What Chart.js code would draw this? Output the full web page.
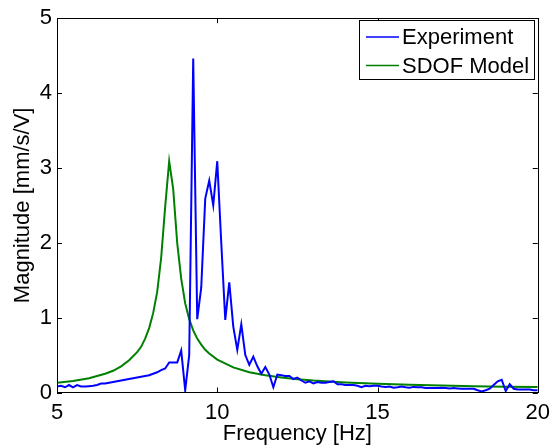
<!DOCTYPE html>
<html>
<head>
<meta charset="utf-8">
<script src="https://cdn.jsdelivr.net/npm/chart.js@4.4.1/dist/chart.umd.min.js"></script>
<style>
  html, body { margin: 0; padding: 0; background: #fff; }
  canvas { display: block; }
</style>
</head>
<body>
<canvas id="frfChart" width="557" height="447"></canvas>
<script>
// measured frequencies (Hz), 0.125 Hz resolution
const freq = [
  5.000, 5.125, 5.250, 5.375, 5.500, 5.625, 5.750, 5.875,
  6.000, 6.125, 6.250, 6.375, 6.500, 6.625, 6.750, 6.875,
  7.000, 7.125, 7.250, 7.375, 7.500, 7.625, 7.750, 7.875,
  8.000, 8.125, 8.250, 8.375, 8.500, 8.625, 8.750, 8.875,
  9.000, 9.125, 9.250, 9.375, 9.500, 9.625, 9.750, 9.875,
  10.000, 10.125, 10.250, 10.375, 10.500, 10.625, 10.750, 10.875,
  11.000, 11.125, 11.250, 11.375, 11.500, 11.625, 11.750, 11.875,
  12.000, 12.125, 12.250, 12.375, 12.500, 12.625, 12.750, 12.875,
  13.000, 13.125, 13.250, 13.375, 13.500, 13.625, 13.750, 13.875,
  14.000, 14.125, 14.250, 14.375, 14.500, 14.625, 14.750, 14.875,
  15.000, 15.125, 15.250, 15.375, 15.500, 15.625, 15.750, 15.875,
  16.000, 16.125, 16.250, 16.375, 16.500, 16.625, 16.750, 16.875,
  17.000, 17.125, 17.250, 17.375, 17.500, 17.625, 17.750, 17.875,
  18.000, 18.125, 18.250, 18.375, 18.500, 18.625, 18.750, 18.875,
  19.000, 19.125, 19.250, 19.375, 19.500, 19.625, 19.750, 19.875,
  20.000
];

// experiment magnitude (mm/s/V)
const experiment = [
  0.08, 0.09, 0.07, 0.10, 0.07, 0.10, 0.08, 0.08,
  0.085, 0.09, 0.10, 0.12, 0.12, 0.13, 0.14, 0.15,
  0.16, 0.17, 0.18, 0.19, 0.20, 0.21, 0.22, 0.23,
  0.25, 0.27, 0.30, 0.32, 0.40, 0.40, 0.40, 0.56,
  0.03, 0.50, 4.46, 0.98, 1.40, 2.59, 2.83, 2.50,
  3.09, 2.00, 0.97, 1.47, 0.88, 0.57, 0.91, 0.50,
  0.37, 0.48, 0.35, 0.25, 0.34, 0.24, 0.07, 0.24,
  0.23, 0.22, 0.22, 0.18, 0.20, 0.16, 0.13, 0.15,
  0.12, 0.14, 0.13, 0.13, 0.14, 0.15, 0.11, 0.11,
  0.10, 0.10, 0.10, 0.09, 0.07, 0.09, 0.085, 0.09,
  0.09, 0.08, 0.075, 0.08, 0.065, 0.07, 0.08, 0.07,
  0.065, 0.075, 0.07, 0.07, 0.06, 0.06, 0.06, 0.06,
  0.065, 0.06, 0.055, 0.06, 0.055, 0.05, 0.05, 0.05,
  0.05, 0.03, 0.015, 0.03, 0.05, 0.10, 0.15, 0.17,
  0.02, 0.11, 0.05, 0.04, 0.04, 0.04, 0.04, 0.03,
  0.03
];

// SDOF model curve
const modelFreq = [
  5.0, 5.5, 6.0, 6.5, 6.75, 7.0, 7.25, 7.5, 7.625, 7.75, 7.875,
  8.0, 8.125, 8.25, 8.375, 8.5, 8.625, 8.75, 8.875,
  9.0, 9.125, 9.25, 9.375, 9.5, 9.625, 9.75, 10.0, 10.5,
  11.0, 11.5, 12.0, 12.5, 13.0, 14.0, 15.0, 16.0, 17.0, 18.0, 19.0, 20.0
];
const model = [
  0.13, 0.155, 0.19, 0.25, 0.29, 0.35, 0.43, 0.54, 0.61, 0.72, 0.86,
  1.06, 1.34, 1.80, 2.48, 3.09, 2.72, 2.00, 1.52,
  1.19, 0.98, 0.83, 0.72, 0.64, 0.57, 0.52, 0.44, 0.335,
  0.27, 0.23, 0.20, 0.178, 0.16, 0.135, 0.117, 0.104, 0.094, 0.085, 0.078, 0.072
];

const xTicks = [5, 10, 15, 20];
const yTicks = [0, 1, 2, 3, 4, 5];

const FONT = "Liberation Sans, Arial, sans-serif";

// box + inward ticks on all four sides, like the matlab axes
const matlabBox = {
  id: "matlabBox",
  afterDatasetsDraw(chart) {
    const { ctx, chartArea: a, scales } = chart;
    const len = 5;
    ctx.save();
    ctx.strokeStyle = "#000";
    ctx.lineWidth = 1;
    ctx.beginPath();
    xTicks.forEach((t) => {
      const px = Math.round(scales.x.getPixelForValue(t)) + 0.5;
      ctx.moveTo(px, a.bottom); ctx.lineTo(px, a.bottom - len);
      ctx.moveTo(px, a.top); ctx.lineTo(px, a.top + len);
    });
    yTicks.forEach((t) => {
      const py = Math.round(scales.y.getPixelForValue(t)) + 0.5;
      ctx.moveTo(a.left, py); ctx.lineTo(a.left + len, py);
      ctx.moveTo(a.right, py); ctx.lineTo(a.right - len, py);
    });
    ctx.stroke();
    ctx.strokeRect(Math.round(a.left) + 0.5, Math.round(a.top) + 0.5,
      Math.round(a.right - a.left), Math.round(a.bottom - a.top));
    ctx.restore();
  },
  afterDraw(chart) {
    // legend box, top right inside the axes
    const { ctx } = chart;
    const bx = 359.5, by = 20.5, bw = 175, bh = 59;
    ctx.save();
    ctx.fillStyle = "#fff";
    ctx.fillRect(bx, by, bw, bh);
    ctx.strokeStyle = "#000";
    ctx.lineWidth = 1;
    ctx.strokeRect(bx, by, bw, bh);
    ctx.font = "22px " + FONT;
    ctx.textBaseline = "middle";
    ctx.textAlign = "left";
    chart.data.datasets.forEach((ds, i) => {
      const y = 37 + i * 28.5;
      ctx.strokeStyle = ds.borderColor;
      ctx.lineWidth = 1.5;
      ctx.beginPath();
      ctx.moveTo(366, y);
      ctx.lineTo(399, y);
      ctx.stroke();
      ctx.fillStyle = "#000";
      ctx.fillText(ds.label, 402, y + 1);
    });
    ctx.restore();
  },
};

const ctx = document.getElementById("frfChart").getContext("2d");
const frfChart = new Chart(ctx, {
  type: "line",
  data: {
    datasets: [
      {
        label: "Experiment",
        data: freq.map((f, i) => ({ x: f, y: experiment[i] })),
        borderColor: "rgb(0,0,255)",
        borderWidth: 2,
        pointRadius: 0,
        tension: 0,
      },
      {
        label: "SDOF Model",
        data: modelFreq.map((f, i) => ({ x: f, y: model[i] })),
        borderColor: "rgb(0,128,0)",
        borderWidth: 2,
        pointRadius: 0,
        tension: 0,
      },
    ],
  },
  options: {
    responsive: false,
    animation: false,
    devicePixelRatio: 1,
    layout: { padding: { left: 0, top: 14, right: 17, bottom: 0 } },
    plugins: {
      legend: { display: false },
      tooltip: { enabled: false },
    },
    scales: {
      x: {
        type: "linear",
        min: 5,
        max: 20,
        afterBuildTicks: (s) => { s.ticks = xTicks.map((v) => ({ value: v })); },
        afterFit: (s) => { s.height = 54.5; },
        grid: { display: false, drawTicks: false },
        border: { display: true, color: "#000", width: 1 },
        ticks: {
          color: "#000",
          padding: 7,
          maxRotation: 0,
          font: { family: FONT, size: 22 },
        },
        title: {
          display: true,
          text: "Frequency [Hz]",
          color: "#000",
          padding: { top: 0, bottom: 0 },
          font: { family: FONT, size: 22 },
        },
      },
      y: {
        type: "linear",
        min: 0,
        max: 5,
        afterBuildTicks: (s) => { s.ticks = yTicks.map((v) => ({ value: v })); },
        afterFit: (s) => { s.width = 57; },
        grid: { display: false, drawTicks: false },
        border: { display: true, color: "#000", width: 1 },
        ticks: {
          color: "#000",
          padding: 5,
          font: { family: FONT, size: 22 },
        },
        title: {
          display: true,
          text: "Magnitude [mm/s/V]",
          color: "#000",
          padding: { top: 10, bottom: 0 },
          font: { family: FONT, size: 22 },
        },
      },
    },
  },
  plugins: [matlabBox],
});
</script>
</body>
</html>
